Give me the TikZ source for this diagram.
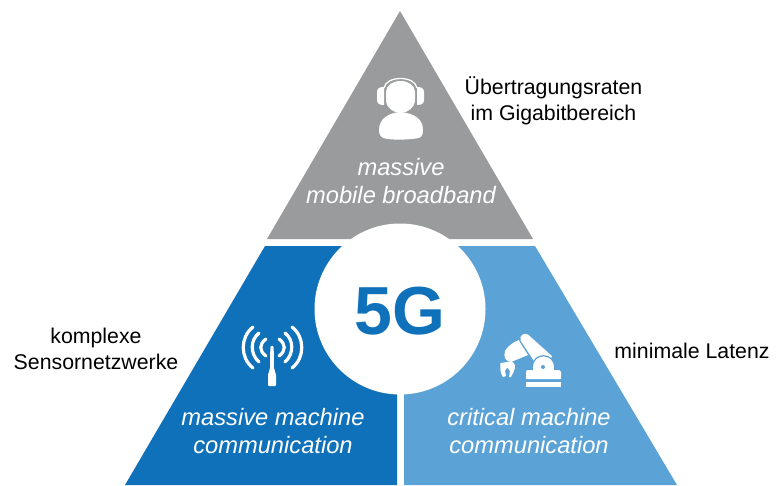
\documentclass[tikz,border=0pt]{standalone}
\usepackage{fontspec}
\setmainfont{Liberation Sans}
\definecolor{grayc}{HTML}{999B9C}
\definecolor{bluec}{HTML}{0F71BA}
\definecolor{lightc}{HTML}{5BA3D6}
\tikzset{
  wlabel/.style={text=white,font=\fontsize{23.7}{27.5}\selectfont\itshape,align=center,inner sep=0pt},
  blabel/.style={text=black,font=\fontsize{21.3}{26.5}\selectfont,align=center,inner sep=0pt},
  wave/.style={draw=white,line width=3.2pt,line cap=round,fill=none},
}
\begin{document}
\begin{tikzpicture}[x=1pt,y=-1pt]
\useasboundingbox (0,0) rectangle (781,485);
\fill[white] (0,0) rectangle (781,485);
\fill[grayc] (400,11) -- (533,239) -- (267,239) -- cycle;
\fill[bluec] (265,246) -- (397,246) -- (397,485) -- (125,485) -- cycle;
\fill[lightc] (404,246) -- (535,246) -- (677,485) -- (404,485) -- cycle;
\fill[white] (400,309) circle (85.5);
\node[text=bluec,font=\fontsize{68}{68}\selectfont\bfseries,inner sep=0pt] (fiveg) at (400,311) {5G};
% headset
\fill[white] (379,130) .. controls (379,119) and (388,113) .. (400,112) .. controls (414,113) and (423,119) .. (423,130) .. controls (423,136) and (421,138) .. (416,138.5) .. controls (405,140) and (392,140) .. (385,138.5) .. controls (381,137.5) and (379,135) .. (379,130) -- cycle;
\fill[white] (386,100) .. controls (386,108) and (394,113) .. (400.5,113) .. controls (407,113) and (415,108) .. (415,100) -- (415,92) .. controls (415,85) and (408,81) .. (400.5,81) .. controls (393,81) and (386,85) .. (386,92) -- cycle;
\fill[white] (377,92) .. controls (377,88) and (380,87) .. (384,87) -- (384,105) .. controls (380,105) and (377,104) .. (377,100) -- cycle;
\fill[white] (424,92) .. controls (424,88) and (421,87) .. (417,87) -- (417,105) .. controls (421,105) and (424,104) .. (424,100) -- cycle;
\draw[white,line width=1.3pt] (384,88) .. controls (385,82) and (392,78.5) .. (400.5,78.5) .. controls (409,78.5) and (416,82) .. (417,88);
\node[wlabel] (top) at (401,181) {massive\\mobile broadband};
% antenna
\fill[white] (270.3,348) .. controls (270.3,345) and (273.7,345) .. (273.7,348) -- (274,368) -- (276,375) -- (276,385) .. controls (276,386) and (275,386) .. (275,386) -- (269,386) .. controls (268,386) and (268,385) .. (268,385) -- (268,375) -- (270,368) -- cycle;
\draw[wave] (266,339) .. controls (259,344) and (259,351) .. (266,356);
\draw[wave] (259,333) .. controls (250,340) and (250,354) .. (259,362);
\draw[wave] (253,327) .. controls (240,337) and (240,358) .. (253,368);
\draw[wave] (279,339) .. controls (286,344) and (286,351) .. (279,356);
\draw[wave] (285,333) .. controls (294,340) and (294,354) .. (285,362);
\draw[wave] (292,327) .. controls (305,337) and (305,358) .. (292,368);
\node[wlabel] (left) at (273,431) {massive machine\\communication};
% robot
\fill[white] (500.5,363) -- (511,361.5) .. controls (515,362) and (516,367) .. (514,371) -- (511,377) -- (509,377) -- (510,371) -- (507,367.5) -- (505,371) -- (506,376) -- (503,377) .. controls (500,373) and (500,367) .. (500.5,363) -- cycle;
\fill[white] (505,351) .. controls (507,347) and (513,342) .. (519,340) -- (528,355) -- (511,362) .. controls (506,362) and (503,357) .. (505,351) -- cycle;
\draw[lightc,line width=1.2pt,line cap=round,fill=white] (520,341) .. controls (518,335) and (524,331) .. (528.5,334) -- (553,356) -- (548,366) -- (535,364) -- cycle;
\draw[lightc,line width=1.2pt,fill=white] (532.5,372) -- (532.5,367) .. controls (532.5,352) and (554.5,352) .. (554.5,367) -- (554.5,372);
\fill[white] (533.1,367) rectangle (553.9,372);
\fill[white] (527,370) -- (559,370) -- (561,372) -- (561,379) -- (526,379) -- (526,372) -- cycle;
\fill[white] (526,382) rectangle (561,387);
\fill[lightc] (543,367) circle (2);
\node[wlabel] (right) at (529,431) {critical machine\\communication};
% outer labels
\node[blabel] (rates) at (553.5,101) {Übertragungsraten\\im Gigabitbereich};
\node[blabel] (sensor) at (96,349) {komplexe\\Sensornetzwerke};
\node[blabel] (latency) at (692,351) {minimale Latenz};
\end{tikzpicture}
\end{document}
